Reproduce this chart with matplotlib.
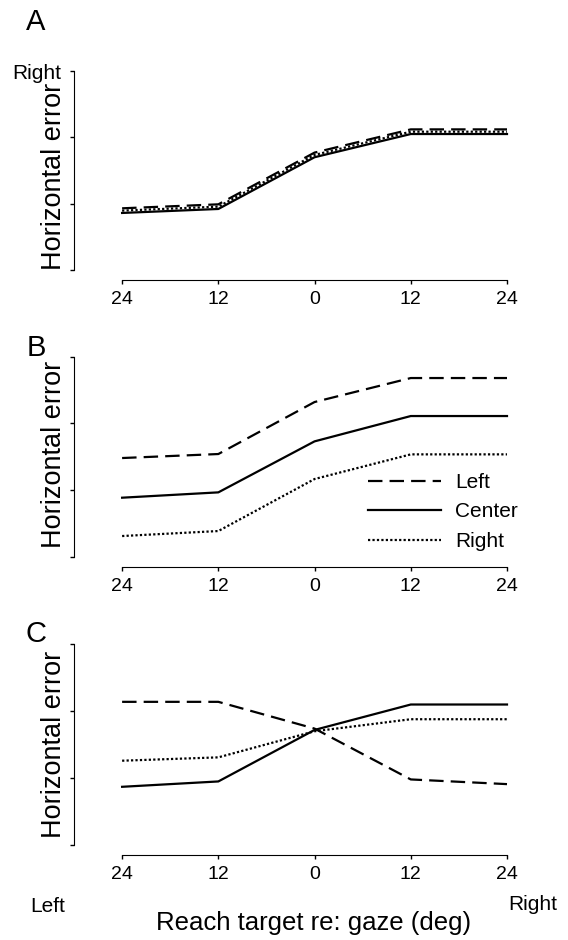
import numpy as np
import matplotlib.pyplot as plt

plt.rcParams['font.family'] = ['Liberation Sans', 'DejaVu Sans']

# reach target positions (deg, left negative) and tick labels
targets = [-24, -12, 0, 12, 24]
tick_labels = ['24', '12', '0', '12', '24']
gaze_names = ['Left', 'Center', 'Right']

# horizontal error, arbitrary units (0 = bottom of axis, 3 = top)
a_left = [0.93, 0.99, 1.77, 2.12, 2.12]
a_center = [0.86, 0.92, 1.70, 2.05, 2.05]
a_right = [0.895, 0.955, 1.735, 2.085, 2.085]

b_left = [1.48, 1.54, 2.32, 2.68, 2.68]
b_center = [0.885, 0.965, 1.73, 2.11, 2.11]
b_right = [0.31, 0.385, 1.165, 1.535, 1.535]

c_left = [2.14, 2.14, 1.74, 0.98, 0.91]
c_center = [0.87, 0.95, 1.72, 2.10, 2.10]
c_right = [1.26, 1.31, 1.70, 1.88, 1.88]

panels = [('A', a_left, a_center, a_right),
          ('B', b_left, b_center, b_right),
          ('C', c_left, c_center, c_right)]

styles = [dict(ls=(0, (6.5, 3.2))), dict(ls='-'), dict(ls=(0, (1, 1)))]

W, H = 568, 940
fig = plt.figure(figsize=(W / 100, H / 100), dpi=100)

# axes boxes in pixels: (top, bottom)
boxes = [(71, 270), (356.7, 556.7), (644.3, 845)]
letter_y = [22, 348, 634]
label_y = [0.47, 0.51, 0.5]

for (name, left, center, right), (top, bot), ly, yl in zip(panels, boxes, letter_y, label_y):
    ax = fig.add_axes([74 / W, (H - bot) / H, 437 / W, (bot - top) / H])
    lines = []
    for vals, st in zip([left, center, right], styles):
        ln, = ax.plot(targets, vals, color='black', lw=1.6, **st)
        lines.append(ln)
    ax.set_xlim(-30, 24.5)
    ax.set_ylim(0, 3)
    for s in ['top', 'right']:
        ax.spines[s].set_visible(False)
    ax.spines['bottom'].set_position(('outward', 7.2))
    ax.spines['bottom'].set_bounds(-24, 24)
    ax.spines['left'].set_bounds(0, 3)
    ax.set_xticks(targets)
    ax.set_xticklabels(tick_labels)
    ax.set_yticks([0, 1, 2, 3])
    if name == 'A':
        ax.set_yticklabels(['', '', '', 'Right'])
    else:
        ax.set_yticklabels([])
    ax.tick_params(axis='x', direction='out', length=3, width=1, pad=5, labelsize=14)
    ax.tick_params(axis='y', direction='out', length=3, width=1, pad=6, labelsize=15)
    ax.set_ylabel('Horizontal error', fontsize=19.5)
    ax.yaxis.set_label_coords(-0.016, yl)
    fig.text(36 / W, 1 - ly / H, name, fontsize=21, ha='center', va='center')
    if name == 'B':
        ax.legend(lines, gaze_names, frameon=False, fontsize=15,
                  handlelength=3.5, handletextpad=0.7, labelspacing=0.5,
                  borderpad=0, borderaxespad=0, loc='upper left',
                  bbox_to_anchor=(368 / W, 1 - 473 / H),
                  bbox_transform=fig.transFigure)

fig.text(30 / W, 1 - 907 / H, 'Left', fontsize=15, ha='left', va='center')
fig.text(557 / W, 1 - 905 / H, 'Right', fontsize=15, ha='right', va='center')
fig.text(314 / W, 1 - 923 / H, 'Reach target re: gaze (deg)', fontsize=18.5,
         ha='center', va='center')

fig.savefig('out.png', dpi=100)
